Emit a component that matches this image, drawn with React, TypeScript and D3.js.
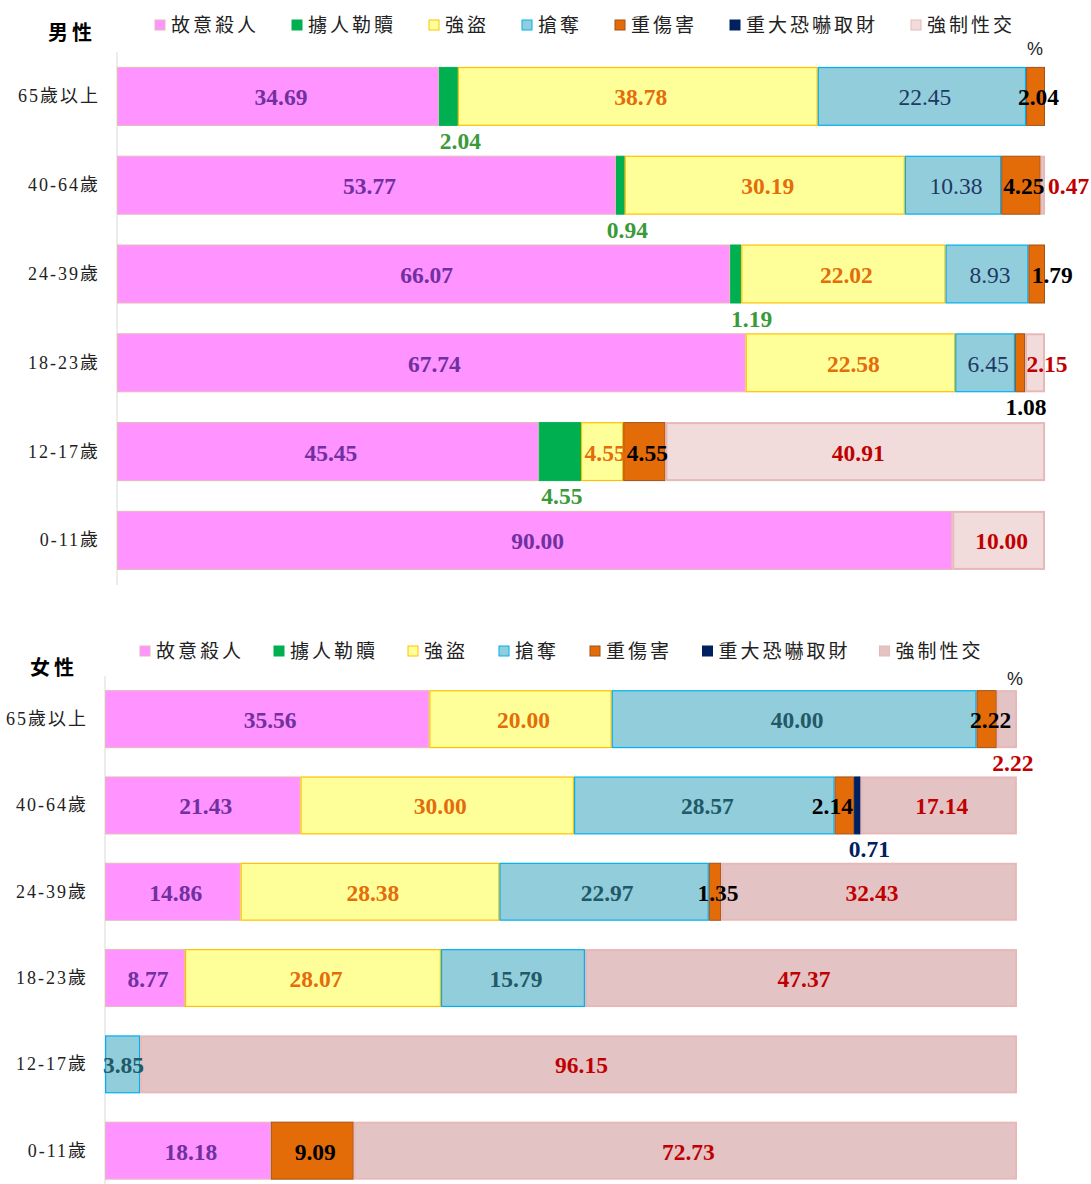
import React from 'react';
import * as d3 from 'd3';

const series = ['故意殺人', '擄人勒贖', '強盜', '搶奪', '重傷害', '重大恐嚇取財', '強制性交'];
const categories = ['65歲以上', '40-64歲', '24-39歲', '18-23歲', '12-17歲', '0-11歲'];

// values per category, in series order
const maleValues = [
  [34.69, 2.04, 38.78, 22.45, 2.04, 0, 0],
  [53.77, 0.94, 30.19, 10.38, 4.25, 0, 0.47],
  [66.07, 1.19, 22.02, 8.93, 1.79, 0, 0],
  [67.74, 0, 22.58, 6.45, 1.08, 0, 2.15],
  [45.45, 4.55, 4.55, 0, 4.55, 0, 40.91],
  [90.0, 0, 0, 0, 0, 0, 10.0],
];
const femaleValues = [
  [35.56, 0, 20.0, 40.0, 2.22, 0, 2.22],
  [21.43, 0, 30.0, 28.57, 2.14, 0.71, 17.14],
  [14.86, 0, 28.38, 22.97, 1.35, 0, 32.43],
  [8.77, 0, 28.07, 15.79, 0, 0, 47.37],
  [0, 0, 0, 3.85, 0, 0, 96.15],
  [18.18, 0, 0, 0, 9.09, 0, 72.73],
];

// label placement overrides: [categoryIndex, seriesIndex, mode, dx]
const maleLabelOverrides: [number, number, string, number][] = [
  [0, 1, 'below', 12],
  [0, 4, 'center', 0],
  [1, 1, 'below', 7],
  [1, 6, 'right', 0],
  [2, 1, 'below', 16],
  [2, 4, 'center', 12.5],
  [3, 4, 'below', 6],
  [3, 6, 'center', 9],
  [4, 1, 'below', 2],
  [4, 2, 'center', 0],
];
const femaleLabelOverrides: [number, number, string, number][] = [
  [0, 4, 'center', 1],
  [0, 6, 'below', 6],
  [1, 4, 'center', -15],
  [1, 5, 'below', 12],
  [4, 3, 'center', -2],
];

const fills = ['#FF93FF', '#00B050', '#FFFF99', '#92CDDC', '#E36C09', '#002060', '#F2DCDB'];
const femaleFills = ['#FF93FF', '#00B050', '#FFFF99', '#92CDDC', '#E36C09', '#002060', '#E4C3C5'];
const strokes = ['#E6B9B8', '#00B050', '#FFC000', '#00B0F0', '#A0521A', '#002060', '#E6B9B8'];
const strokeWidths = [1, 1, 1.2, 1.2, 1, 1, 2];
const maleLabelColors = ['#7030A0', '#3A9A3A', '#E46C0A', '#1F3864', '#000000', '#002060', '#C00000'];
const femaleLabelColors = ['#7030A0', '#3A9A3A', '#E46C0A', '#215967', '#000000', '#002060', '#C00000'];
const maleLabelWeights = ['bold', 'bold', 'bold', 'normal', 'bold', 'bold', 'bold'];
const femaleLabelWeights = ['bold', 'bold', 'bold', 'bold', 'bold', 'bold', 'bold'];

const NUM_FONT = "'Liberation Serif', 'Times New Roman', 'Noto Sans CJK TC', serif";
const CJK_FONT = "'Liberation Serif', 'Noto Sans CJK TC', serif";
const CENTER_SHIFT = 3;

type PanelProps = {
  title: string;
  values: number[][];
  overrides: [number, number, string, number][];
  panelFills: string[];
  labelColors: string[];
  labelWeights: string[];
  x0: number;
  x1: number;
  y0: number;
  step: number;
  band: number;
  titleX: number;
  titleY: number;
  legendX: number;
  legendY: number;
  legendUnit: number;
  legendPad: number;
  catRight: number;
  axisBottom: number;
  pctX: number;
  pctY: number;
};

function Panel(p: PanelProps) {
  const x = d3.scaleLinear().domain([0, 100]).range([p.x0, p.x1]);
  const pad = (p.step - p.band) / p.step;
  const y = d3
    .scaleBand<string>()
    .domain(categories)
    .range([p.y0, p.y0 + p.step * categories.length])
    .paddingInner(pad)
    .paddingOuter(pad / 2);

  const stackData = p.values.map((row, i) => {
    const obj: any = { cat: categories[i] };
    series.forEach((s, j) => (obj[s] = row[j]));
    return obj;
  });
  const stacked = d3.stack<any>().keys(series)(stackData);

  let lx = p.legendX;
  const legendItems = series.map((s) => {
    const item = { s, x: lx };
    lx += s.length * p.legendUnit + p.legendPad;
    return item;
  });

  const findOverride = (ci: number, si: number) =>
    p.overrides.find((o) => o[0] === ci && o[1] === si);

  return (
    <g>
      <text
        x={p.titleX}
        y={p.titleY}
        fontFamily={CJK_FONT}
        fontWeight="bold"
        fontSize={20}
        letterSpacing={4}
        dominantBaseline="central"
        fill="#000"
      >
        {p.title}
      </text>
      {legendItems.map((it, i) => (
        <g key={it.s}>
          <rect
            x={it.x}
            y={p.legendY - 5}
            width={10}
            height={10}
            fill={p.panelFills[i]}
            stroke={strokes[i]}
            strokeWidth={1}
          />
          <text
            x={it.x + 16}
            y={p.legendY}
            fontFamily={CJK_FONT}
            fontSize={19}
            letterSpacing={3}
            dominantBaseline="central"
            fill="#222"
          >
            {it.s}
          </text>
        </g>
      ))}
      <text
        x={p.pctX}
        y={p.pctY}
        fontFamily="'Liberation Sans', Arial, sans-serif"
        fontSize={18}
        textAnchor="middle"
        dominantBaseline="central"
        fill="#222"
      >
        %
      </text>
      <line x1={p.x0} x2={p.x0} y1={p.y0} y2={p.axisBottom} stroke="#D9D9D9" strokeWidth={1} />
      {categories.map((c) => (
        <text
          key={c}
          x={p.catRight}
          y={(y(c) as number) + y.bandwidth() / 2}
          fontFamily={CJK_FONT}
          fontSize={18}
          letterSpacing={2}
          textAnchor="end"
          dominantBaseline="central"
          fill="#222"
        >
          {c}
        </text>
      ))}
      {stacked.map((layer, si) => (
        <g key={layer.key}>
          {layer.map((d, ci) => {
            const v = d[1] - d[0];
            if (v <= 0) return null;
            const sw = strokeWidths[si];
            return (
              <rect
                key={ci}
                x={x(d[0]) + sw / 2}
                y={(y(categories[ci]) as number) + sw / 2}
                width={Math.max(x(d[1]) - x(d[0]) - sw, 0.5)}
                height={y.bandwidth() - sw}
                fill={p.panelFills[si]}
                stroke={strokes[si]}
                strokeWidth={sw}
              />
            );
          })}
        </g>
      ))}
      {stacked.map((layer, si) => (
        <g key={'l' + layer.key}>
          {layer.map((d, ci) => {
            const v = d[1] - d[0];
            if (v <= 0) return null;
            const val = p.values[ci][si];
            const o = findOverride(ci, si);
            const mode = o ? o[2] : 'center';
            const dx = o ? o[3] : 0;
            const top = y(categories[ci]) as number;
            let tx = (x(d[0]) + x(d[1])) / 2 + dx + CENTER_SHIFT;
            let ty = top + y.bandwidth() / 2 + 1;
            let anchor = 'middle';
            if (mode === 'below') {
              tx = (x(d[0]) + x(d[1])) / 2 + dx;
              ty = top + y.bandwidth() + 15;
            } else if (mode === 'right') {
              tx = x(d[1]) + 3 + dx;
              anchor = 'start';
            }
            return (
              <text
                key={ci}
                x={tx}
                y={ty}
                fontFamily={NUM_FONT}
                fontSize={23.5}
                fontWeight={p.labelWeights[si]}
                textAnchor={anchor}
                dominantBaseline="central"
                fill={p.labelColors[si]}
              >
                {val.toFixed(2)}
              </text>
            );
          })}
        </g>
      ))}
    </g>
  );
}

export default function App() {
  return (
    <svg
      width={1091}
      height={1184}
      style={{ position: 'absolute', left: 0, top: 0, background: '#fff' }}
    >
      <rect width={1091} height={1184} fill="#fff" />
      <Panel
        title="男性"
        values={maleValues}
        overrides={maleLabelOverrides}
        panelFills={fills}
        labelColors={maleLabelColors}
        labelWeights={maleLabelWeights}
        x0={117}
        x1={1045}
        y0={52}
        step={88.8}
        band={59}
        titleX={48}
        titleY={33}
        legendX={155}
        legendY={25}
        legendUnit={22}
        legendPad={49}
        catRight={100}
        axisBottom={585}
        pctX={1035}
        pctY={49}
      />
      <Panel
        title="女性"
        values={femaleValues}
        overrides={femaleLabelOverrides}
        panelFills={femaleFills}
        labelColors={femaleLabelColors}
        labelWeights={femaleLabelWeights}
        x0={105}
        x1={1017}
        y0={676}
        step={86.3}
        band={58}
        titleX={30}
        titleY={668}
        legendX={140}
        legendY={651}
        legendUnit={21.5}
        legendPad={48}
        catRight={88}
        axisBottom={1184}
        pctX={1015}
        pctY={679}
      />
    </svg>
  );
}
